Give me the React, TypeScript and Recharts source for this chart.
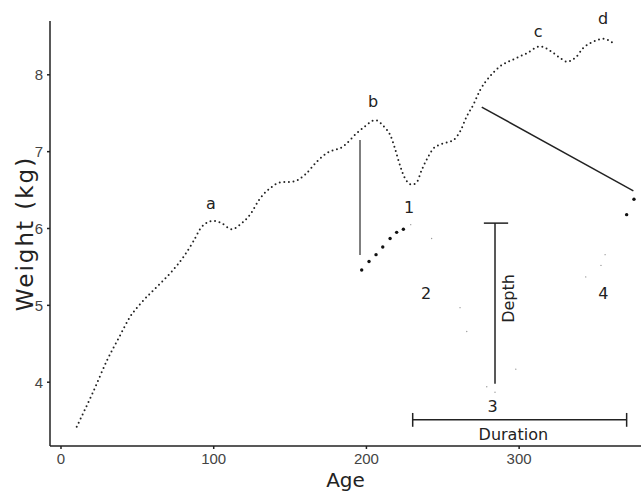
import { LineChart, Line, XAxis, YAxis, ReferenceLine, ReferenceDot } from "recharts";

// growth curve
const growthAge = [
  10.3, 20.5, 30.3, 38.2, 45.2, 52.4, 62.7, 72.5, 80.5, 86.6, 92.1, 99.7, 105.2, 111.8, 117.2,
  123.8, 130.3, 138, 143.4, 152.1, 159.8, 167.5, 174, 184.9, 193.6, 199.1, 205.6, 212.2, 215.5,
  218.7, 220.9, 224.8, 229.7, 232.9, 236.2, 240.6, 243.8, 249.3, 256.9, 261.3, 265.7, 270, 274.4,
  280.9, 287.5, 296.2, 305, 313.7, 321.3, 326.8, 331.2, 337.7, 342, 348.6, 355.1, 361.7,
];
const growthWeight = [
  3.42, 3.85, 4.29, 4.59, 4.85, 5.03, 5.24, 5.44, 5.64, 5.83, 6.02, 6.1, 6.07, 5.99, 6.05,
  6.18, 6.39, 6.54, 6.6, 6.61, 6.7, 6.87, 6.98, 7.07, 7.24, 7.33, 7.41, 7.31, 7.22,
  7.04, 6.89, 6.67, 6.57, 6.6, 6.76, 6.94, 7.04, 7.1, 7.15, 7.26, 7.46, 7.61, 7.8,
  7.98, 8.11, 8.2, 8.28, 8.37, 8.3, 8.22, 8.17, 8.24, 8.35, 8.43, 8.47, 8.41,
];

// the disturbed path: the dots that show clearly
const dropAge = [196.9, 201.7, 206.3, 210.7, 215.5, 219.8, 224.2, 370.4, 375.2];
const dropWeight = [5.46, 5.57, 5.66, 5.76, 5.87, 5.95, 5.99, 6.18, 6.38];

// and the faint ones
const faintAge = [229, 242.7, 261.3, 265.7, 278.8, 284.2, 297.8, 343.6, 353.6, 356.3];
const faintWeight = [6.05, 5.87, 4.97, 4.66, 3.94, 3.87, 4.17, 5.37, 5.52, 5.66];

const xTicks = [0, 100, 200, 300];
const yTicks = [4, 5, 6, 7, 8];

const pointLabels = ["a", "b", "c", "d", "1", "2", "3", "4"];
const pointLabelAge = [98.2, 204.3, 312.4, 355, 228, 239, 282.7, 355.1];
const pointLabelWeight = [6.33, 7.65, 8.56, 8.73, 6.27, 5.16, 3.68, 5.16];

const zip = (xs: number[], ys: number[]) => xs.map((age, i) => ({ age, weight: ys[i] }));

const growth = zip(growthAge, growthWeight);
const drop = zip(dropAge, dropWeight);
const faint = zip(faintAge, faintWeight);

const ink = "#222";
const font = "DejaVu Sans";

export default function App() {
  return (
    <div style={{ position: "absolute", left: 0, top: 0 }}>
      <LineChart width={641} height={491} margin={{ top: 21, right: 0, bottom: 0, left: 0 }}>
        <XAxis
          type="number"
          dataKey="age"
          domain={[-7.2, 379.8]}
          ticks={xTicks}
          height={45}
          stroke={ink}
          strokeWidth={1.5}
          tickSize={3}
          tickMargin={4}
          tick={{ fill: "#444", fontSize: 15, fontFamily: "Liberation Sans" }}
          label={{ value: "Age", position: "insideBottom", offset: 4, fontSize: 20, fill: ink, fontFamily: font }}
        />
        <YAxis
          type="number"
          domain={[3.17, 8.7]}
          ticks={yTicks}
          width={50}
          stroke={ink}
          strokeWidth={1.5}
          tickSize={3}
          tickMargin={4}
          tick={{ fill: "#444", fontSize: 15, fontFamily: "Liberation Sans" }}
          label={{
            value: "Weight (kg)",
            angle: -90,
            position: "center",
            fontSize: 23,
            fill: ink,
            fontFamily: font,
            letterSpacing: 2,
          }}
        />

        {/* drop from b and the recovery line */}
        <ReferenceLine segment={[{ x: 195.8, y: 7.15 }, { x: 195.8, y: 5.655 }]} stroke="#555" strokeWidth={1.5} ifOverflow="visible" />
        <ReferenceLine segment={[{ x: 275.5, y: 7.58 }, { x: 374.8, y: 6.49 }]} stroke={ink} strokeWidth={1.5} ifOverflow="visible" />

        {/* depth */}
        <ReferenceLine segment={[{ x: 284.2, y: 6.07 }, { x: 284.2, y: 3.98 }]} stroke={ink} strokeWidth={1.5} ifOverflow="visible" />
        <ReferenceLine segment={[{ x: 276.9, y: 6.07 }, { x: 292.8, y: 6.07 }]} stroke={ink} strokeWidth={1.5} ifOverflow="visible" />

        {/* duration */}
        <ReferenceLine segment={[{ x: 230.3, y: 3.51 }, { x: 370.4, y: 3.51 }]} stroke={ink} strokeWidth={1.5} ifOverflow="visible" />
        <ReferenceLine segment={[{ x: 230.3, y: 3.6 }, { x: 230.3, y: 3.42 }]} stroke={ink} strokeWidth={1.5} ifOverflow="visible" />
        <ReferenceLine segment={[{ x: 370.4, y: 3.6 }, { x: 370.4, y: 3.42 }]} stroke={ink} strokeWidth={1.5} ifOverflow="visible" />

        <Line
          data={growth}
          dataKey="weight"
          type="monotone"
          stroke={ink}
          strokeWidth={2}
          strokeDasharray="0 4.6"
          strokeLinecap="round"
          dot={false}
          activeDot={false}
          isAnimationActive={false}
        />
        <Line
          data={faint}
          dataKey="weight"
          stroke="none"
          dot={{ r: 0.7, fill: "#999", stroke: "none" }}
          activeDot={false}
          isAnimationActive={false}
        />
        <Line
          data={drop}
          dataKey="weight"
          stroke="none"
          dot={{ r: 1.7, fill: "#111", stroke: "none" }}
          activeDot={false}
          isAnimationActive={false}
        />

        {pointLabels.map((t, i) => (
          <ReferenceDot
            key={t}
            x={pointLabelAge[i]}
            y={pointLabelWeight[i]}
            r={0}
            fill="none"
            stroke="none"
            ifOverflow="visible"
            label={{ value: t, position: "center", fontSize: 16, fill: ink, fontFamily: font }}
          />
        ))}
        <ReferenceDot
          x={292.7}
          y={5.09}
          r={0}
          fill="none"
          stroke="none"
          ifOverflow="visible"
          label={{ value: "Depth", position: "center", angle: -90, fontSize: 16, fill: ink, fontFamily: font }}
        />
        <ReferenceDot
          x={296.2}
          y={3.32}
          r={0}
          fill="none"
          stroke="none"
          ifOverflow="visible"
          label={{ value: "Duration", position: "center", fontSize: 16, fill: ink, fontFamily: font }}
        />
      </LineChart>
    </div>
  );
}
